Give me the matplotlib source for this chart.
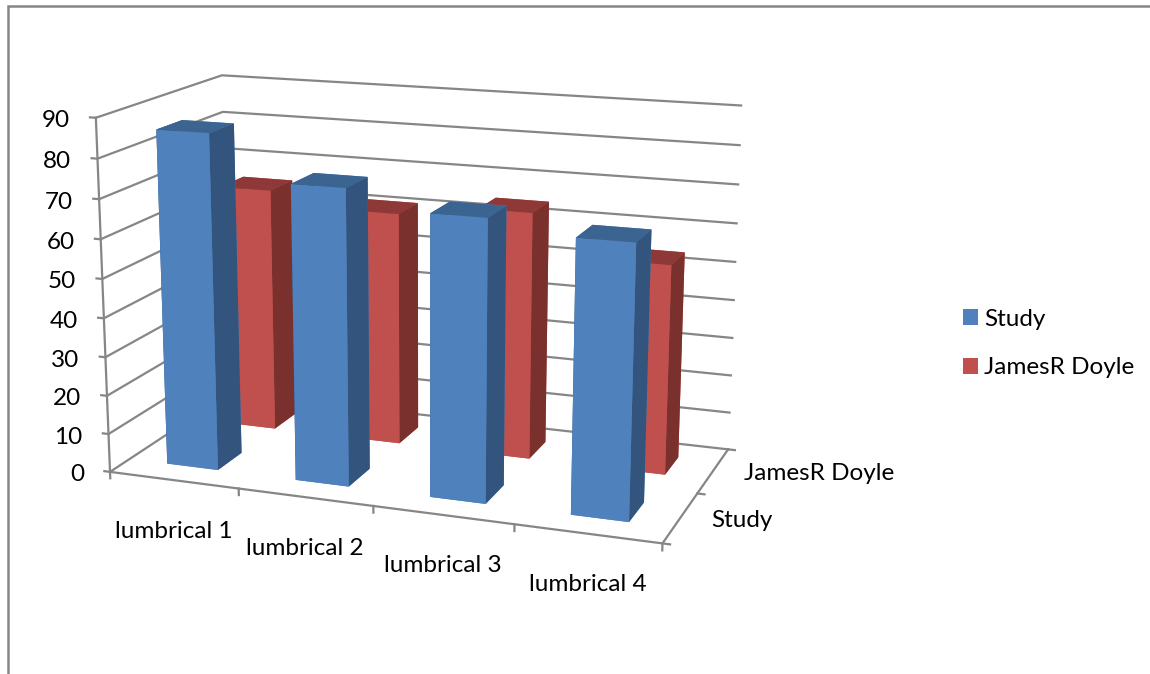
import numpy as np
import matplotlib
matplotlib.use('Agg')
import matplotlib.pyplot as plt
from matplotlib.lines import Line2D
from matplotlib.patches import Patch
from mpl_toolkits.mplot3d import proj3d

plt.rcParams['font.family'] = ['Lato', 'DejaVu Sans']

categories = ['lumbrical 1', 'lumbrical 2', 'lumbrical 3', 'lumbrical 4']
series_names = ['Study', 'JamesR Doyle']
study = [86, 75, 70.5, 67.5]
doyle = [64.8, 61.3, 64.3, 54]
z_ticks = [0, 10, 20, 30, 40, 50, 60, 70, 80, 90]

GRID = '#868686'
FACES = {
    'Study': ('#4F81BD', '#3C6491', '#32547D'),
    'JamesR Doyle': ('#C0504D', '#8E3937', '#7A312E'),
}
FS = 17.45
W, H = 1150, 674
S, TX, TY = 3831.4, 423.76, 289.74

fig = plt.figure(figsize=(W/100, H/100), dpi=100, facecolor='white')
left = TX - 0.095*S
right = TX + 0.09*S
bottom = TY + 0.095*S
size = right - left
ax = fig.add_axes([left/W, (H-bottom)/H, size/W, size/H], projection='3d')
ax.set_xlim(0, 4, view_margin=0)
ax.set_ylim(0, 2, view_margin=0)
ax.set_zlim(0, 90, view_margin=0)
ax.view_init(14.620, -69.871, 0.023)
ax.set_proj_type('persp', focal_length=0.5523)
ax.set_box_aspect((1.5787, 0.7821, 1))
ax.set_axis_off()
ax.patch.set_alpha(0)
ax.computed_zorder = False

lw = 1.6
for v in z_ticks:
    ax.plot([0, 0, 4], [0, 2, 2], [v, v, v], color=GRID, lw=lw, zorder=1, solid_joinstyle='miter')
    ax.plot([0, -0.045], [0, 0], [v, v], color=GRID, lw=lw, zorder=1)
ax.plot([0, 0], [0, 0], [0, 90], color=GRID, lw=lw, zorder=1)
ax.plot([0, 4, 4], [0, 0, 2], [0, 0, 0], color=GRID, lw=lw, zorder=1)
for i in range(len(categories)+1):
    ax.plot([i, i], [0, 0], [0, -1.7], color=GRID, lw=lw, zorder=1)
for j in range(len(series_names)+1):
    ax.plot([4, 4.05], [j, j], [0, 0], color=GRID, lw=lw, zorder=1)

z = 3
for row, (name, vals) in reversed(list(enumerate(zip(series_names, [study, doyle])))):
    front, top, side = FACES[name]
    # bottom, top, front(-y), back(+y), left(-x), right(+x)
    cols = [front, top, front, front, side, side]
    for i, v in enumerate(vals):
        ax.bar3d(i+0.3, row+0.3, 0, 0.4, 0.4, v, color=cols, shade=False, zorder=z, edgecolor='none', linewidth=0)
        z += 1

M = ax.get_proj()
def lab(x, y, zv, s, dx, dy, ha, va='center'):
    px, py, _ = proj3d.proj_transform(x, y, zv, M)
    ax.annotate(s, xy=(px, py), xytext=(dx, dy), textcoords='offset pixels', ha=ha, va=va,
                fontsize=FS, color='black', annotation_clip=False, zorder=50)

for v in z_ticks:
    lab(0, 0, v, str(v), -26, -3, 'right')
for i, c in enumerate(categories):
    lab(i+0.5, 0, 0, c, 0, -51, 'center')
for j, n in enumerate(series_names):
    lab(4, j+0.5, 0, n, 31, -3, 'left')

handles = [Patch(facecolor=FACES[n][0], edgecolor='none', label=n) for n in series_names]
fig.legend(handles=handles, loc='center left', bbox_to_anchor=(963/W, 1-343.5/H), frameon=False,
           fontsize=FS, handlelength=0.62, handleheight=0.62, handletextpad=0.25, labelspacing=1.14,
           borderpad=0, borderaxespad=0)

fig.add_artist(Line2D([8/W, 8/W, 1], [0, 1-6/H, 1-6/H], transform=fig.transFigure, color=GRID, lw=1.8,
                      solid_joinstyle='miter'))
fig.savefig('out.png', dpi=100)
